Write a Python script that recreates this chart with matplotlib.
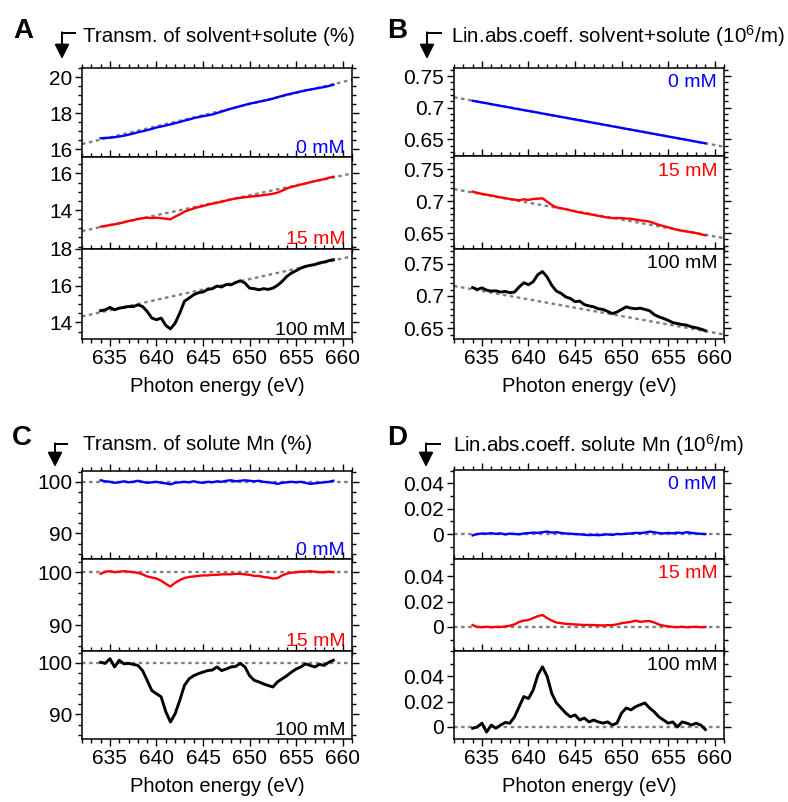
import numpy as np
import matplotlib
matplotlib.use("Agg")
import matplotlib.pyplot as plt
from matplotlib.ticker import MultipleLocator, FuncFormatter

plt.rcParams["font.family"] = ["Liberation Sans", "DejaVu Sans"]
plt.rcParams["mathtext.fontset"] = "custom"
plt.rcParams["mathtext.rm"] = "Liberation Sans"
plt.rcParams["mathtext.it"] = "Liberation Sans:italic"

# photon energy grid (eV), 634 -> 659 by 0.5
energy = np.arange(634, 659.01, 0.5)

# A : transmission of solvent+solute (%)
transm_0mM = [16.60, 16.62, 16.63, 16.66, 16.70, 16.74, 16.80, 16.86, 16.93, 16.99,
              17.05, 17.12, 17.20, 17.25, 17.31, 17.37, 17.44, 17.50, 17.58, 17.64,
              17.72, 17.77, 17.83, 17.87, 17.92, 18.00, 18.08, 18.16, 18.24, 18.31,
              18.38, 18.45, 18.52, 18.57, 18.63, 18.68, 18.74, 18.80, 18.88, 18.95,
              19.02, 19.08, 19.14, 19.20, 19.26, 19.30, 19.35, 19.40, 19.44, 19.50,
              19.57]
transm_15mM = [13.09, 13.13, 13.18, 13.22, 13.27, 13.33, 13.40, 13.45, 13.51, 13.55,
               13.58, 13.56, 13.58, 13.55, 13.53, 13.49, 13.64, 13.76, 13.91, 14.00,
               14.09, 14.16, 14.22, 14.29, 14.35, 14.40, 14.45, 14.52, 14.58, 14.63,
               14.67, 14.70, 14.73, 14.76, 14.78, 14.82, 14.85, 14.89, 14.95, 15.06,
               15.18, 15.26, 15.33, 15.39, 15.45, 15.52, 15.58, 15.64, 15.69, 15.76,
               15.82]
transm_100mM = [14.64, 14.69, 14.82, 14.69, 14.78, 14.82, 14.87, 14.86, 14.96, 14.87,
                14.60, 14.24, 14.15, 14.24, 13.84, 13.65, 13.96, 14.51, 15.15, 15.33,
                15.51, 15.62, 15.66, 15.80, 15.84, 15.98, 15.93, 16.07, 16.05, 16.17,
                16.27, 16.15, 15.87, 15.84, 15.78, 15.84, 15.80, 15.87, 16.02, 16.24,
                16.51, 16.69, 16.82, 16.96, 17.05, 17.11, 17.15, 17.24, 17.29, 17.36,
                17.42]

# B : lin. abs. coeff. solvent+solute (10^6/m)
abs_0mM = [0.7110, 0.7097, 0.7083, 0.7071, 0.7056, 0.7044, 0.7029, 0.7017, 0.7003, 0.6988,
           0.6977, 0.6962, 0.6950, 0.6936, 0.6924, 0.6909, 0.6897, 0.6882, 0.6870, 0.6855,
           0.6843, 0.6829, 0.6816, 0.6803, 0.6789, 0.6776, 0.6762, 0.6750, 0.6735, 0.6723,
           0.6708, 0.6696, 0.6682, 0.6668, 0.6655, 0.6642, 0.6628, 0.6615, 0.6601, 0.6588,
           0.6574, 0.6561, 0.6547, 0.6534, 0.6521, 0.6507, 0.6494, 0.6480, 0.6467, 0.6453,
           0.6440]
abs_15mM = [0.7150, 0.7132, 0.7115, 0.7102, 0.7090, 0.7075, 0.7060, 0.7048, 0.7035, 0.7025,
            0.7015, 0.7030, 0.7020, 0.7035, 0.7040, 0.7045, 0.6995, 0.6940, 0.6905, 0.6890,
            0.6875, 0.6858, 0.6840, 0.6825, 0.6810, 0.6798, 0.6785, 0.6770, 0.6755, 0.6745,
            0.6735, 0.6737, 0.6735, 0.6728, 0.6725, 0.6712, 0.6700, 0.6692, 0.6680, 0.6655,
            0.6630, 0.6610, 0.6590, 0.6570, 0.6550, 0.6537, 0.6525, 0.6512, 0.6500, 0.6482,
            0.6465]
abs_100mM = [0.7130, 0.7100, 0.7125, 0.7090, 0.7075, 0.7080, 0.7060, 0.7070, 0.7050, 0.7060,
             0.7140, 0.7205, 0.7175, 0.7220, 0.7330, 0.7380, 0.7295, 0.7165, 0.7075, 0.7040,
             0.6985, 0.6960, 0.6910, 0.6920, 0.6865, 0.6845, 0.6830, 0.6800, 0.6790, 0.6760,
             0.6725, 0.6750, 0.6790, 0.6830, 0.6810, 0.6800, 0.6810, 0.6790, 0.6770, 0.6710,
             0.6675, 0.6650, 0.6620, 0.6585, 0.6570, 0.6555, 0.6545, 0.6520, 0.6505, 0.6485,
             0.6460]

# C : transmission of solute Mn (%)
mn_transm_0mM = [100.3, 100.1, 100.0, 99.8, 99.9, 100.1, 99.9, 100.0, 100.2, 100.0,
                 99.8, 99.9, 100.0, 99.8, 99.7, 99.5, 99.8, 99.9, 100.0, 99.9,
                 100.1, 99.9, 99.8, 100.0, 99.9, 100.1, 100.0, 100.2, 100.3, 100.1,
                 100.2, 100.3, 100.2, 100.1, 100.2, 100.0, 99.9, 99.8, 99.6, 99.8,
                 99.9, 100.0, 99.9, 100.0, 99.8, 99.6, 99.7, 99.8, 99.9, 100.0,
                 100.2]
mn_transm_15mM = [99.7, 100.1, 100.2, 100.0, 100.1, 100.2, 100.1, 100.0, 99.9, 99.6,
                  99.2, 99.0, 98.8, 98.4, 97.8, 97.3, 98.0, 98.5, 98.9, 99.1,
                  99.2, 99.3, 99.4, 99.4, 99.5, 99.5, 99.6, 99.6, 99.6, 99.7,
                  99.7, 99.6, 99.5, 99.3, 99.3, 99.1, 99.0, 98.8, 98.9, 99.4,
                  99.75, 99.9, 100.0, 100.1, 100.1, 100.2, 100.1, 100.0, 100.0, 100.1,
                  100.0]
mn_transm_100mM = [100.1, 99.9, 100.8, 99.2, 100.5, 99.8, 99.9, 99.7, 99.5, 98.5,
                   96.6, 94.6, 94.0, 93.4, 90.5, 88.5, 90.1, 92.7, 95.6, 96.9,
                   97.5, 97.9, 98.2, 98.5, 98.6, 99.2, 98.5, 98.8, 99.2, 99.3,
                   99.9, 99.2, 97.5, 96.6, 96.3, 95.9, 95.6, 95.3, 96.3, 96.9,
                   97.5, 98.2, 98.8, 99.2, 99.8, 99.5, 99.2, 99.7, 99.5, 100.1,
                   100.5]

# D : lin. abs. coeff. solute Mn (10^6/m)
mn_abs_0mM = [-0.0010, 0.0000, 0.0005, 0.0003, 0.0008, 0.0002, 0.0006, -0.0003, 0.0004, 0.0001,
              -0.0002, 0.0005, 0.0008, 0.0012, 0.0010, 0.0015, 0.0020, 0.0012, 0.0015, 0.0010,
              0.0005, 0.0003, 0.0000, -0.0002, -0.0005, -0.0008, -0.0006, -0.0009, -0.0005, -0.0002,
              -0.0007, 0.0001, -0.0001, 0.0003, 0.0005, 0.0010, 0.0008, 0.0012, 0.0020, 0.0015,
              0.0008, 0.0005, 0.0010, 0.0006, 0.0012, 0.0008, 0.0015, 0.0010, 0.0005, 0.0002,
              0.0000]
mn_abs_15mM = [0.0015, 0.0000, -0.0002, 0.0002, -0.0003, 0.0001, 0.0000, 0.0004, 0.0010, 0.0020,
               0.0040, 0.0050, 0.0055, 0.0070, 0.0085, 0.0095, 0.0070, 0.0050, 0.0035, 0.0030,
               0.0025, 0.0022, 0.0020, 0.0018, 0.0015, 0.0016, 0.0015, 0.0013, 0.0012, 0.0014,
               0.0015, 0.0020, 0.0030, 0.0035, 0.0040, 0.0050, 0.0040, 0.0045, 0.0047, 0.0035,
               0.0020, 0.0010, 0.0005, 0.0000, -0.0002, 0.0002, -0.0003, 0.0000, 0.0001, -0.0002,
               0.0000]
mn_abs_100mM = [-0.0010, 0.0000, 0.0030, -0.0040, 0.0015, -0.0010, 0.0015, 0.0035, 0.0030, 0.0080,
                0.0160, 0.0240, 0.0225, 0.0290, 0.0410, 0.0475, 0.0400, 0.0265, 0.0190, 0.0150,
                0.0110, 0.0080, 0.0095, 0.0055, 0.0070, 0.0040, 0.0055, 0.0040, 0.0030, 0.0040,
                0.0015, 0.0030, 0.0110, 0.0150, 0.0135, 0.0160, 0.0175, 0.0190, 0.0150, 0.0120,
                0.0080, 0.0055, 0.0030, 0.0040, 0.0000, 0.0040, 0.0030, 0.0015, 0.0030, 0.0015,
                -0.0020]

# dashed baselines, given at 632 and 661 eV
base_x = [632, 661]
transm_base = [[16.28, 19.85], [12.85, 16.0], [14.33, 17.6]]
abs_base = [[0.7165, 0.6386], [0.719, 0.642], [0.7155, 0.640]]
mn_transm_base = [[100, 100], [100, 100], [100, 100]]
mn_abs_base = [[0, 0], [0, 0], [0, 0]]

conc_labels = ["0 mM", "15 mM", "100 mM"]
colors = ["#0000ff", "#ff0000", "#000000"]

W, H = 788, 802
fig = plt.figure(figsize=(W / 100, H / 100), dpi=100)


def add_ax(l, t, r, b):
    return fig.add_axes([l / W, 1 - b / H, (r - l) / W, (b - t) / H])


def panel(left, right, rows, series, bases, ylims, yticks, yminor, label_top):
    for i in range(3):
        t, b = rows[i], rows[i + 1]
        ax = add_ax(left, t, right, b)
        ax.plot(base_x, bases[i], color="#808080", lw=1.7, ls=(0, (1.5, 1.5)), zorder=1)
        ax.plot(energy, series[i], color=colors[i], lw=1.7 if i < 2 else 2.1, zorder=2)
        ax.set_xlim(632, 661)
        ax.set_ylim(*ylims[i])
        ax.set_yticks(yticks[i])
        ax.yaxis.set_minor_locator(MultipleLocator(yminor))
        ax.xaxis.set_major_locator(MultipleLocator(5))
        ax.xaxis.set_minor_locator(MultipleLocator(1))
        ax.yaxis.set_major_formatter(FuncFormatter(lambda v, p: "%g" % round(v, 4)))
        ax.tick_params(which="both", direction="out", top=True, right=True,
                       labelsize=15, width=1, pad=2)
        ax.tick_params(which="major", length=5)
        ax.tick_params(which="minor", length=3)
        for s in ax.spines.values():
            s.set_linewidth(1.1)
        if i < 2:
            ax.tick_params(labelbottom=False)
        else:
            ax.set_xlabel("Photon energy (eV)", fontsize=14.5, labelpad=7)
        if label_top:
            ax.text(0.975, 0.93, conc_labels[i], color=colors[i], fontsize=14,
                    ha="right", va="top", transform=ax.transAxes)
        else:
            ax.text(0.975, 0.05, conc_labels[i], color=colors[i], fontsize=14,
                    ha="right", va="baseline", transform=ax.transAxes)


# A
panel(82, 352, [68, 157, 249, 339],
      [transm_0mM, transm_15mM, transm_100mM], transm_base,
      [(15.56, 20.5), (11.87, 16.9), (13.1, 18.0)],
      [[16, 18, 20], [14, 16], [14, 16, 18]], 0.5, False)
# B
panel(454, 724, [68, 156, 249, 339],
      [abs_0mM, abs_15mM, abs_100mM], abs_base,
      [(0.624, 0.7626), (0.625, 0.771), (0.633, 0.773)],
      [[0.65, 0.7, 0.75]] * 3, 0.01, True)
# C
panel(82, 352, [471, 559, 651, 739],
      [mn_transm_0mM, mn_transm_15mM, mn_transm_100mM], mn_transm_base,
      [(85.0, 102.1), (85.1, 102.5), (85.2, 102.3)],
      [[90, 100]] * 3, 2, False)
# D
panel(454, 724, [470, 559, 651, 739],
      [mn_abs_0mM, mn_abs_15mM, mn_abs_100mM], mn_abs_base,
      [(-0.0196, 0.0505), (-0.019, 0.0537), (-0.0095, 0.060)],
      [[0, 0.02, 0.04]] * 3, 0.01, True)

# overlay in pixel coordinates for letters, titles and bent arrows
ov = fig.add_axes([0, 0, 1, 1])
ov.set_xlim(0, W)
ov.set_ylim(H, 0)
ov.axis("off")

letters = [("A", 23, 31), ("B", 397, 31), ("C", 22, 438), ("D", 397, 438)]
for s, x, y in letters:
    ov.text(x, y, s, fontsize=20, fontweight="bold", ha="center", va="center")

titles = [("Transm. of solvent+solute (%)", 83, 36),
          ("Lin.abs.coeff. solvent+solute (10$^6$/m)", 451, 36),
          ("Transm. of solute Mn (%)", 83, 445),
          ("Lin.abs.coeff. solute Mn (10$^6$/m)", 453, 445)]
for s, x, y in titles:
    ov.text(x, y, s, fontsize=14.8, ha="left", va="center")

# bent arrows: (end of horizontal, x of vertical, y of horizontal, arrow tip)
arrows = [(76, 62, 33, 59), (442, 427, 33, 59), (68, 55, 444, 467), (441, 426, 444, 467)]
for xh, xv, yh, ytip in arrows:
    ov.plot([xh, xv], [yh, yh], color="k", lw=1.4, solid_capstyle="butt")
    ov.annotate("", xy=(xv, ytip), xytext=(xv, yh - 0.7),
                arrowprops=dict(arrowstyle="-|>", color="k", lw=1.4,
                                mutation_scale=22, shrinkA=0, shrinkB=0))

fig.savefig("out.png", dpi=100)
